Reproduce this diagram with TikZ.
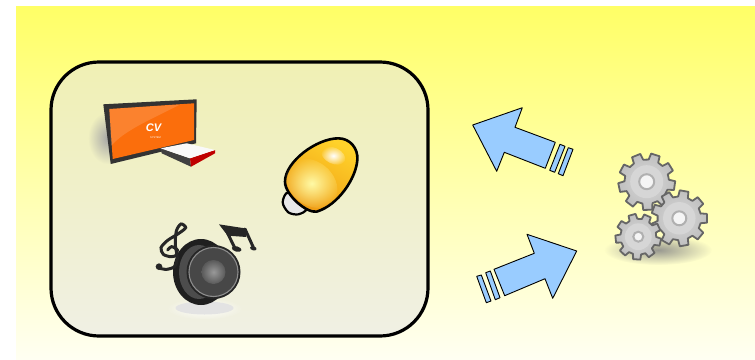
\documentclass[tikz,border=0pt]{standalone}
\usepackage{fontspec}
\setsansfont{Liberation Sans}
\usetikzlibrary{fadings}
\definecolor{bgtop}{HTML}{FFFF66}
\definecolor{bgbot}{HTML}{FFFFF2}
\definecolor{paneltop}{HTML}{F0F0B4}
\definecolor{panelbot}{HTML}{F0F0E4}
\definecolor{arrowc}{HTML}{99CCFF}
\definecolor{scrc}{HTML}{FB6E0C}
\definecolor{bulbc}{HTML}{FFD22A}
\definecolor{bulbe}{HTML}{EE9A14}
\definecolor{gearc}{HTML}{666666}
\tikzset{
  panel/.style={draw=black, line width=3.2pt, top color=paneltop, bottom color=panelbot},
  bigarrow/.style={draw=black, line width=0.9pt, fill=arrowc, line join=round},
  softspot/.style={path fading=softfade, fill=#1},
  gearbody/.style={draw=gearc, line width=1.8pt, line join=round, inner color=gray!30, outer color=gray!50},
  musicink/.style={draw=black!85, line width=3pt, line cap=round},
}
\tikzfading[name=softfade, inner color=transparent!0, outer color=transparent!100]
\newcommand{\gearwheel}[5]{%
  \begin{scope}[shift={(#1,#2)}]
    \path[gearbody] (348:#3*0.78)
      \foreach \a in {0,40,...,320}{
        -- (\a+#5-13:#3*0.78) -- (\a+#5-9:#3) -- (\a+#5+9:#3) -- (\a+#5+13:#3*0.78)
      } -- cycle;
    \fill[gray!32] (0,0) circle ({#3*0.58});
    \draw[gray!62, line width=2pt, fill=white!92!gray] (0,0) circle (#4);
  \end{scope}
}
\begin{document}
\begin{tikzpicture}[x=1pt, y=-1pt]
    \useasboundingbox (0,0) rectangle (755,359);
    \shade[top color=bgtop, bottom color=bgbot] (16,6) rectangle (755,359);
    \path[panel, rounded corners=48pt] (51,62) rectangle (428,336);

    \fill[softspot=gray!70] (108,138) ellipse (20 and 26);
    \fill[black!80] (103.3,104.3) -- (196.7,99.3) -- (196,143.3) -- (110.7,164) -- cycle;
    \fill[scrc] (109.3,109) -- (194,103.3) -- (194,140) -- (112.7,159) -- cycle;
    \fill[white, opacity=0.14] (109.3,109) -- (180,104.5) .. controls (150,120) and (125,130) .. (111,146) -- cycle;
    \node[white, font=\sffamily\itshape\bfseries\fontsize{11}{11}\selectfont, inner sep=0pt] (tvlogo) at (153.5,127.5) {CV};
    \node[white, font=\sffamily\fontsize{2.6}{3}\selectfont, inner sep=0pt] (tvname) at (155.5,137.5) {SYSTEM};
    \fill[black!75] (160.7,148.3) -- (161.7,153.3) -- (191,166.7) -- (190,158.3) -- cycle;
    \fill[red!75!black] (190,158.3) -- (191,166.7) -- (215,153.3) -- (215,150) -- cycle;
    \fill[white!95!gray] (160.7,148.3) -- (186.7,143.3) -- (215,150) -- (190,158.3) -- cycle;

    \begin{scope}[shift={(270,125)}, scale=1/3]
      \draw[black, line width=2.2pt, fill=gray!18] plot[smooth cycle] coordinates {(55,203) (38,232) (55,262) (85,268) (108,250)};
      \draw[black, line width=2.6pt, left color=bulbc, right color=bulbe, shading angle=-30]
        (205,40) .. controls (240,40) and (265,70) .. (262,105)
        .. controls (258,160) and (205,240) .. (140,260)
        .. controls (110,265) and (45,210) .. (45,170)
        .. controls (45,110) and (140,40) .. (205,40) -- cycle;
      \fill[softspot=yellow!35!white, rotate around={-40:(125,175)}] (125,175) ellipse (85 and 65);
      \fill[softspot=white, rotate around={-25:(190,92)}] (190,92) ellipse (38 and 24);
    \end{scope}

    \fill[softspot=white] (204.5,308.5) ellipse (38 and 11);
    \fill[gray!22] (204.5,308) ellipse (29 and 6.5);
    \fill[black!88] (201,272) ellipse (28 and 33);
    \fill[gray!60!black] (199,272) ellipse (20 and 27);
    \fill[black!85] (213.5,272) circle (27);
    \draw[black!45, line width=1.1pt, fill=black!72] (213.5,272) circle (24.5);
    \shade[inner color=gray!80, outer color=black!65] (213.5,272) circle (12);
    \begin{scope}[shift={(145,215)}, scale=1/3]
      \draw[musicink] plot[smooth] coordinates {(75,125) (55,118) (48,98) (68,76) (100,56) (122,38) (108,27) (94,48) (91,90) (97,130) (88,155) (65,163) (45,160)};
      \draw[musicink] plot[smooth] coordinates {(75,125) (92,122) (97,105) (80,95) (68,105)};
      \fill[black!85] (42,155) circle (10);
      \fill[black!85] (222,28) -- (300,40) -- (304,66) -- (248,62) -- cycle;
      \draw[musicink] (248,55) -- (270,100);
      \draw[musicink] (300,42) -- (325,97);
      \fill[black!85, rotate around={-15:(275,102)}] (275,102) ellipse (15 and 8);
      \fill[black!85, rotate around={-15:(325,100)}] (325,100) ellipse (10 and 6);
    \end{scope}

    \path[bigarrow] (472.7,125) -- (522.3,107.7) -- (515,127.3) -- (555.3,142.3) -- (545.3,168.3) -- (504.3,152.3) -- (496.7,171.3) -- cycle;
    \path[bigarrow] (560,144.3) -- (565,146.3) -- (554.7,172.3) -- (549.7,170.3) -- cycle;
    \path[bigarrow] (568.3,147.7) -- (573,149.3) -- (563,175.7) -- (558.3,173.7) -- cycle;
    \path[bigarrow] (576.7,251) -- (527,234.3) -- (534.3,253.3) -- (494,269.3) -- (504.7,295.7) -- (545,278.7) -- (552.7,298.3) -- cycle;
    \path[bigarrow] (485.7,272.7) -- (490.3,271) -- (500,297.7) -- (495.3,299.7) -- cycle;
    \path[bigarrow] (476.7,276.3) -- (481.3,275) -- (491,301) -- (486.3,302.7) -- cycle;

    \fill[softspot=black!40!bgbot] (658,250) ellipse (54 and 15);
    \gearwheel{646.7}{181.7}{28.5}{7.5}{8}
    \gearwheel{679.3}{218.3}{28}{7}{0}
    \gearwheel{638.3}{236.7}{23}{5}{14}
\end{tikzpicture}
\end{document}
